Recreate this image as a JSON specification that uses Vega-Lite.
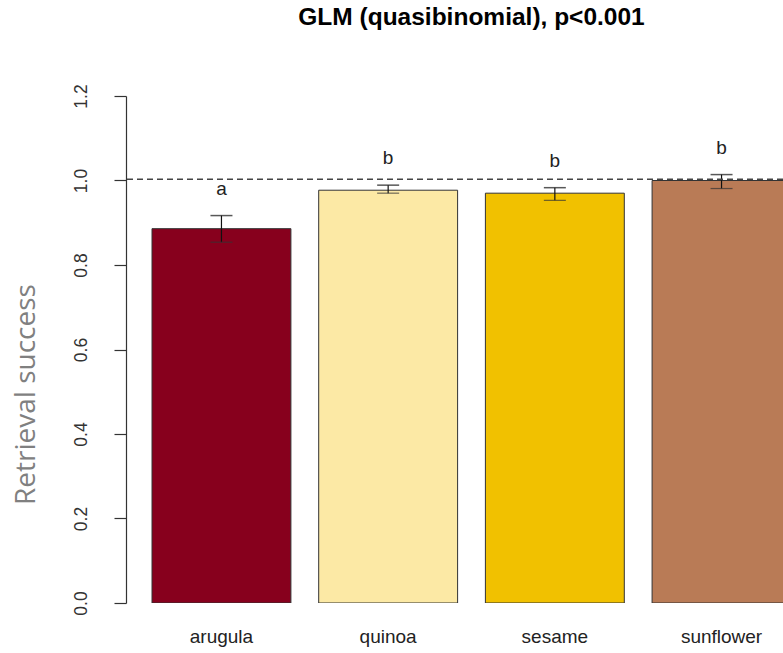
{
  "$schema": "https://vega.github.io/schema/vega-lite/v6.json",
  "autosize": {"type": "none"},
  "width": 657,
  "height": 507,
  "padding": {"left": 126, "top": 96, "right": 0, "bottom": 50},
  "background": "white",
  "config": {"view": {"stroke": null}},
  "title": {
    "text": "GLM (quasibinomial), p<0.001",
    "font": "Liberation Sans",
    "fontSize": 24.5,
    "fontWeight": "bold",
    "color": "#000000",
    "anchor": "middle",
    "baseline": "alphabetic",
    "offset": 34,
    "dx": 17
  },
  "data": {
    "values": [
      {"seed": "arugula", "mean": 0.886, "lo": 0.854, "hi": 0.917, "letter": "a"},
      {"seed": "quinoa", "mean": 0.977, "lo": 0.970, "hi": 0.989, "letter": "b"},
      {"seed": "sesame", "mean": 0.970, "lo": 0.953, "hi": 0.983, "letter": "b"},
      {"seed": "sunflower", "mean": 1.000, "lo": 0.981, "hi": 1.014, "letter": "b"}
    ]
  },
  "encoding": {
    "x": {
      "field": "seed",
      "type": "nominal",
      "sort": null,
      "scale": {"type": "band", "range": [0, 691], "paddingInner": 0.1667, "paddingOuter": 0.156},
      "axis": {
        "title": null,
        "domain": false,
        "ticks": false,
        "labelAngle": 0,
        "labelFont": "Liberation Sans",
        "labelFontSize": 19,
        "labelColor": "#222222",
        "labelPadding": 24
      }
    }
  },
  "layer": [
    {
      "mark": {"type": "bar", "stroke": "#333333", "strokeWidth": 1, "clip": true},
      "encoding": {
        "y": {
          "field": "mean",
          "type": "quantitative",
          "scale": {"domain": [0, 1.2], "nice": false, "zero": true},
          "axis": {
            "title": "Retrieval success",
            "titleFont": "Open Sans",
            "titleFontSize": 28,
            "titleFontWeight": "normal",
            "titleColor": "#808080",
            "titleAngle": -90,
            "titleAlign": "center",
            "titleBaseline": "alphabetic",
            "titleX": -92,
            "titleY": 298,
            "values": [0, 0.2, 0.4, 0.6, 0.8, 1.0, 1.2],
            "format": ".1f",
            "grid": false,
            "domainColor": "#333333",
            "domainWidth": 1.2,
            "tickColor": "#333333",
            "tickWidth": 1.2,
            "tickSize": 12,
            "labelAngle": -90,
            "labelAlign": "center",
            "labelBaseline": "bottom",
            "labelPadding": 24,
            "labelFont": "Liberation Sans",
            "labelFontSize": 17.5,
            "labelColor": "#333333"
          }
        },
        "color": {
          "field": "seed",
          "type": "nominal",
          "scale": {
            "domain": ["arugula", "quinoa", "sesame", "sunflower"],
            "range": ["#87001D", "#FCE9A5", "#F1C100", "#B97B56"]
          },
          "legend": null
        }
      }
    },
    {
      "mark": {"type": "rule", "color": "#111111", "strokeWidth": 1.2},
      "encoding": {
        "y": {"field": "lo", "type": "quantitative"},
        "y2": {"field": "hi"}
      }
    },
    {
      "mark": {"type": "tick", "color": "#111111", "size": 22, "thickness": 1.5},
      "encoding": {"y": {"field": "hi", "type": "quantitative"}}
    },
    {
      "mark": {"type": "tick", "color": "#333333", "size": 22, "thickness": 1.2},
      "encoding": {"y": {"field": "lo", "type": "quantitative"}}
    },
    {
      "mark": {"type": "text", "dy": -27, "baseline": "middle", "font": "Liberation Sans", "fontSize": 19, "color": "#222222"},
      "encoding": {
        "y": {"field": "hi", "type": "quantitative"},
        "text": {"field": "letter"}
      }
    },
    {
      "data": {"values": [{"ref": 1.003}]},
      "mark": {"type": "rule", "color": "#444444", "strokeWidth": 1.5, "strokeDash": [6, 4]},
      "encoding": {
        "x": null,
        "y": {"field": "ref", "type": "quantitative"}
      }
    }
  ]
}
